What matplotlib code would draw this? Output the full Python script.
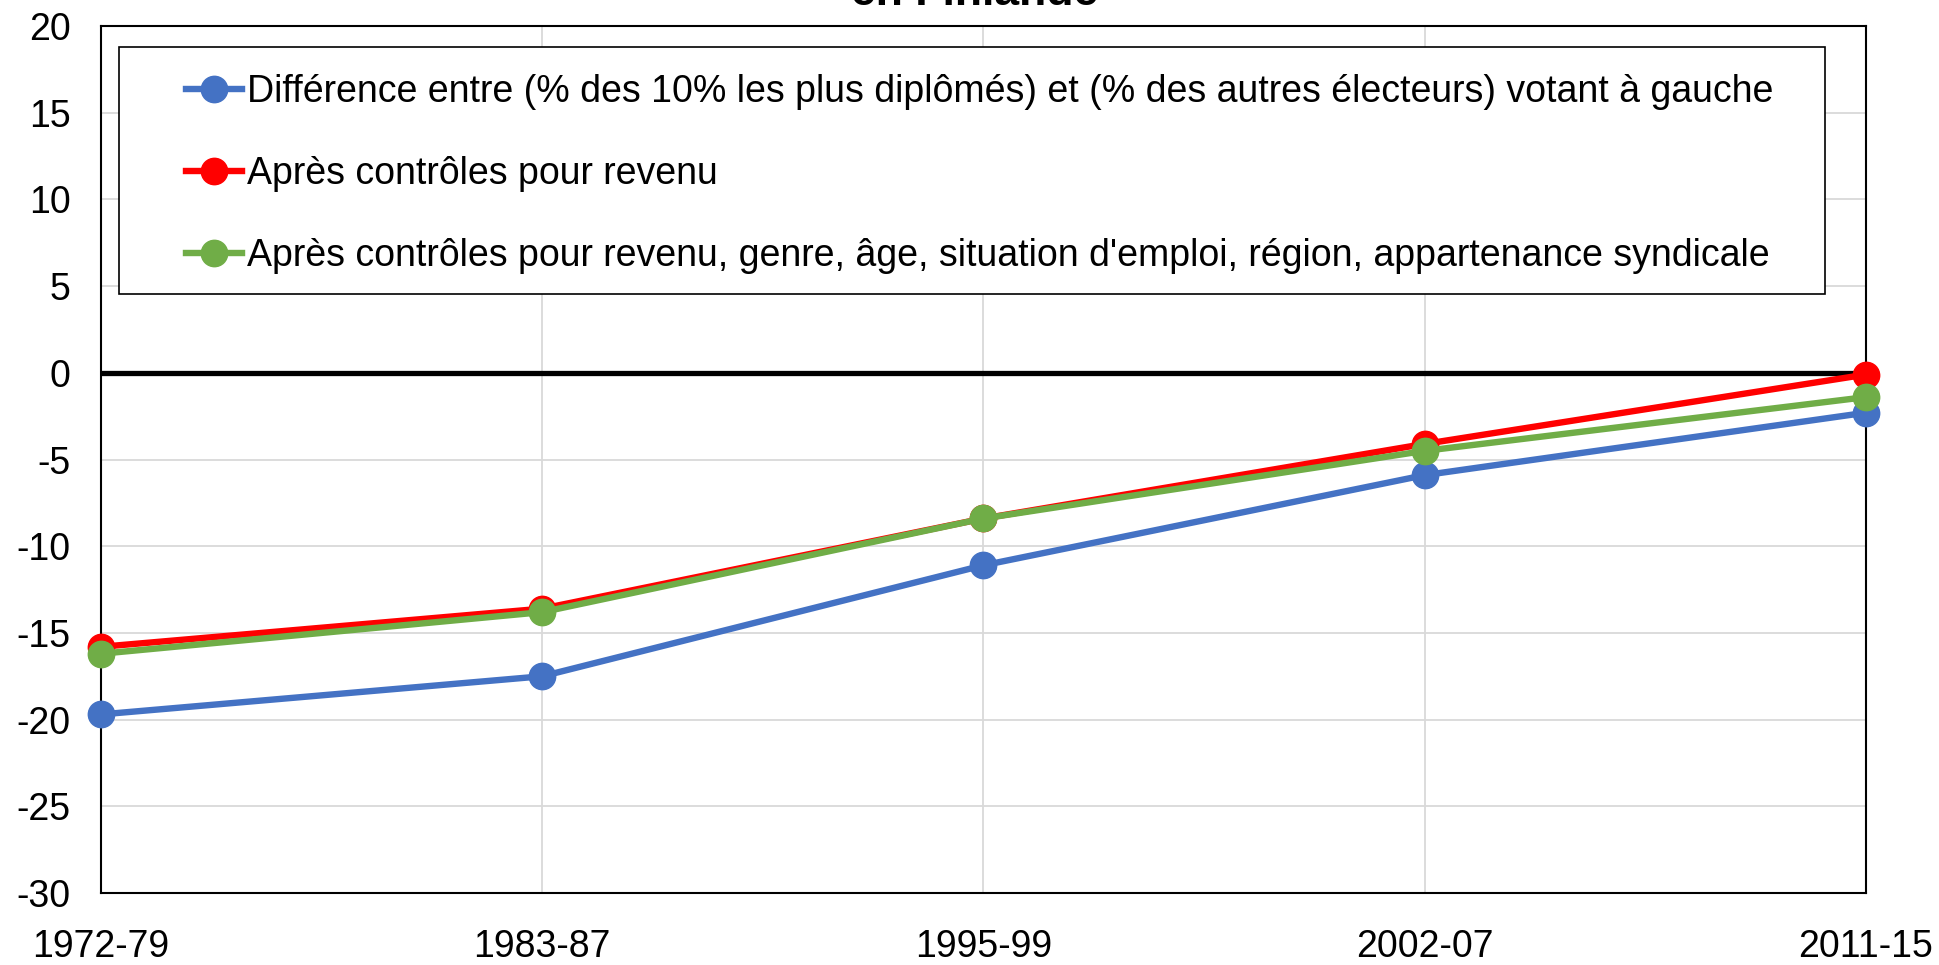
import numpy as np
import matplotlib
matplotlib.use("Agg")
import matplotlib.pyplot as plt
from matplotlib.patches import Rectangle

plt.rcParams['font.family'] = ['Liberation Sans', 'DejaVu Sans']
plt.rcParams['axes.unicode_minus'] = False

periods = ["1972-79", "1983-87", "1995-99", "2002-07", "2011-15"]
diff_raw = [-19.7, -17.5, -11.1, -5.9, -2.3]
ctrl_income = [-15.8, -13.6, -8.4, -4.1, -0.1]
ctrl_all = [-16.2, -13.8, -8.4, -4.5, -1.4]

labels = [
    "Différence entre (% des 10% les plus diplômés) et (% des autres électeurs) votant à gauche",
    "Après contrôles pour revenu",
    "Après contrôles pour revenu, genre, âge, situation d'emploi, région, appartenance syndicale",
]
colors_ = ["#4472C4", "#FF0000", "#70AD47"]

fig = plt.figure(figsize=(19.39, 9.65), dpi=100)
ax = fig.add_axes([0.0521, 0.0746, 0.9102, 0.8984])

x = np.arange(len(periods))
for y, c, lab in zip([diff_raw, ctrl_income, ctrl_all], colors_, labels):
    ax.plot(x, y, color=c, lw=4.6, marker='o', markersize=19, label=lab,
            clip_on=False, zorder=3)

ax.axhline(0, color='black', lw=3.8, zorder=2)

ax.set_xlim(0, 4)
ax.set_ylim(-30, 20)
ax.set_xticks(x)
ax.set_xticklabels(periods)
ax.set_yticks(range(-30, 21, 5))
ax.tick_params(axis='both', length=0, labelsize=27)
ax.tick_params(axis='x', pad=26)
ax.tick_params(axis='y', pad=22)
ax.grid(True, color='#D9D9D9', lw=1.3, zorder=0)
for s in ax.spines.values():
    s.set_color('black')
    s.set_linewidth(1.5)

# legend box drawn separately so the padding matches
ax.add_patch(Rectangle((0.0102, 0.6909), 0.9666, 0.2849, transform=ax.transAxes,
                       facecolor='white', edgecolor='black', lw=1.2, zorder=4))
leg = ax.legend(loc='upper left', bbox_to_anchor=(0.0479, 0.945),
                borderaxespad=0, borderpad=0, fontsize=27, handlelength=1.5,
                handletextpad=0.13, labelspacing=1.23, frameon=False)
leg.set_zorder(5)

fig.text(0.5025, 0.9948, "en Finlande", ha='center', va='baseline',
         fontsize=32, fontweight='bold')

fig.savefig("out.png", dpi=100)
